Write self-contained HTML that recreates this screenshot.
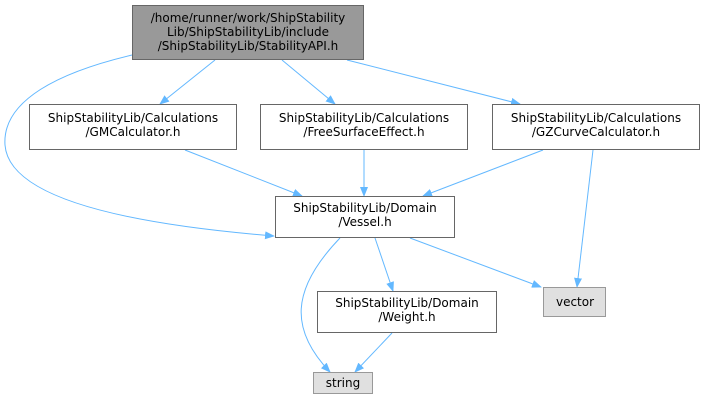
<!DOCTYPE html>
<html><head><style>
html,body{margin:0;padding:0;background:#fff;}
svg{display:block;}
text{font-family:"DejaVu Sans","Liberation Sans",sans-serif;font-size:12px;fill:#000;}
</style></head><body>
<svg width="703" height="403" viewBox="0 0 703 403" xmlns="http://www.w3.org/2000/svg">
<defs>
<marker id="a" markerWidth="10" markerHeight="8" refX="9" refY="4" orient="auto" markerUnits="userSpaceOnUse">
<path d="M0,0 L10,4 L0,8 Z" fill="#63b8ff"/>
</marker>
</defs>
<g fill="none" stroke="#63b8ff" stroke-width="1" marker-end="url(#a)">
<path d="M215,60 L160,104"/>
<path d="M282,60 L335,104"/>
<path d="M347,60 L520,104"/>
<path d="M132,55 C60,72 2,100 5,145 C10,212 200,230 274,236"/>
<path d="M185,150 L302,196"/>
<path d="M364,150 L364,196"/>
<path d="M543,150 L423,196"/>
<path d="M593,150 L577,287"/>
<path d="M340,238 C290,290 290,330 330,372"/>
<path d="M375,238 L393,291"/>
<path d="M410,238 L541,287"/>
<path d="M392,333 L355,372"/>
</g>
<g stroke="#666" stroke-width="1">
<rect x="132.5" y="5.5" width="231" height="54" fill="#999"/>
<rect x="29.5" y="104.5" width="207" height="45" fill="#fff"/>
<rect x="260.5" y="104.5" width="207" height="45" fill="#fff"/>
<rect x="492.5" y="104.5" width="207" height="45" fill="#fff"/>
<rect x="275.5" y="196.5" width="179" height="41" fill="#fff"/>
<rect x="317.5" y="291.5" width="179" height="41" fill="#fff"/>
<rect x="543.5" y="287.5" width="62" height="29" fill="#e0e0e0" stroke="#999"/>
<rect x="313.5" y="372.5" width="59" height="21" fill="#e0e0e0" stroke="#999"/>
</g>
<g text-anchor="middle">
<text x="248" y="22">/home/runner/work/ShipStability</text>
<text x="248" y="36">Lib/ShipStabilityLib/include</text>
<text x="248" y="50">/ShipStabilityLib/StabilityAPI.h</text>
<text x="133" y="122">ShipStabilityLib/Calculations</text>
<text x="133" y="136">/GMCalculator.h</text>
<text x="364" y="122">ShipStabilityLib/Calculations</text>
<text x="364" y="136">/FreeSurfaceEffect.h</text>
<text x="596" y="122">ShipStabilityLib/Calculations</text>
<text x="596" y="136">/GZCurveCalculator.h</text>
<text x="365" y="212">ShipStabilityLib/Domain</text>
<text x="365" y="226">/Vessel.h</text>
<text x="407" y="307">ShipStabilityLib/Domain</text>
<text x="407" y="321">/Weight.h</text>
<text x="575" y="306">vector</text>
<text x="343" y="387">string</text>
</g>
</svg>
</body></html>
